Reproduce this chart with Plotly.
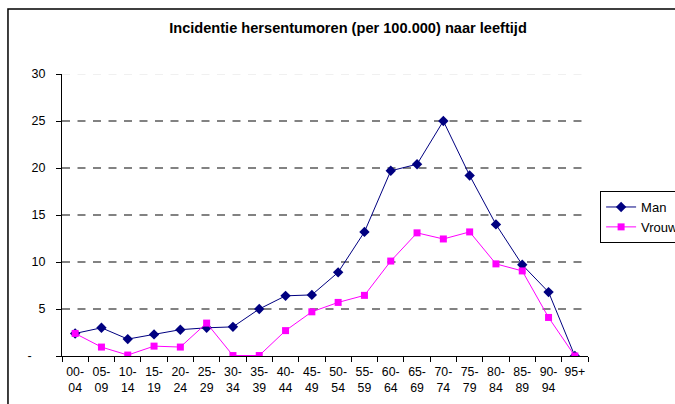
import plotly.graph_objects as go

categories = ["00-<br>04", "05-<br>09", "10-<br>14", "15-<br>19", "20-<br>24", "25-<br>29",
              "30-<br>34", "35-<br>39", "40-<br>44", "45-<br>49", "50-<br>54", "55-<br>59",
              "60-<br>64", "65-<br>69", "70-<br>74", "75-<br>79", "80-<br>84", "85-<br>89",
              "90-<br>94", "95+<br> "]
man = [2.4, 3.0, 1.8, 2.3, 2.8, 3.0, 3.1, 5.0, 6.4, 6.5, 8.9, 13.2,
       19.7, 20.4, 25.0, 19.2, 14.0, 9.7, 6.8, 0.0]
vrouw = [2.4, 0.95, 0.1, 1.05, 0.95, 3.5, 0.05, 0.05, 2.7, 4.7, 5.7, 6.45,
         10.1, 13.1, 12.45, 13.2, 9.8, 9.05, 4.1, 0.0]
ytick_vals = [0, 5, 10, 15, 20, 25, 30]
ytick_text = ["-\u00a0\u00a0\u00a0\u00a0", "5", "10", "15", "20", "25", "30"]

FONT = "Liberation Sans, Arial, sans-serif"
W, H = 720, 404

fig = go.Figure()
fig.add_trace(go.Scatter(x=categories, y=man, name="Man", mode="lines+markers",
                         line=dict(color="#000080", width=1),
                         marker=dict(symbol="diamond", size=8, color="#000080")))
fig.add_trace(go.Scatter(x=categories, y=vrouw, name="Vrouw", mode="lines+markers",
                         line=dict(color="#FF00FF", width=1),
                         marker=dict(symbol="square", size=7, color="#FF00FF")))

# dashed gridlines
for v in ytick_vals[1:]:
    fig.add_shape(type="line", xref="paper", yref="y", x0=0, x1=1, y0=v, y1=v,
                  line=dict(color="#5a5a5a" if v < 30 else "#ececec", width=1.3,
                            dash="8px,7.5px"),
                  layer="below")

# outer chart border
fig.add_shape(type="rect", xref="paper", yref="paper",
              x0=-0.1027, x1=1.25, y0=-0.25, y1=1.2305,
              line=dict(color="black", width=1.5))

fig.update_layout(
    width=W, height=H, autosize=False,
    margin=dict(l=62, r=W - 588, t=74, b=48),
    paper_bgcolor="white", plot_bgcolor="white",
    font=dict(family=FONT, size=12, color="black"),
    title=dict(text="<b>Incidentie hersentumoren (per 100.000) naar leeftijd</b>",
               x=348/W, xref="container", xanchor="center",
               y=1 - 28/H, yref="container", yanchor="middle",
               font=dict(family=FONT, size=14.6, color="black")),
    showlegend=True,
    legend=dict(x=1.023, y=0.585, xanchor="left", yanchor="top",
                bordercolor="black", borderwidth=1, bgcolor="white",
                font=dict(family=FONT, size=13), tracegroupgap=0,
                itemwidth=30),
    xaxis=dict(type="category", showgrid=False, showline=True, linecolor="black",
               linewidth=1, ticks="outside", ticklen=5, tickcolor="black",
               tickson="boundaries", tickangle=0, tickfont=dict(family=FONT, size=12.3),
               ticklabelstandoff=4, range=[-0.5, 19.5], zeroline=False,
               automargin=False),
    yaxis=dict(range=[0, 30], tickvals=ytick_vals, ticktext=ytick_text,
               showgrid=False, showline=True, linecolor="black", linewidth=1,
               ticks="outside", ticklen=5, tickcolor="black", zeroline=False,
               tickfont=dict(family=FONT, size=12.5), ticklabelstandoff=8,
               automargin=False),
)

fig.write_html("out.html", config={"displayModeBar": False},
               post_script="document.body.style.margin='0';document.body.style.overflow='hidden';")
